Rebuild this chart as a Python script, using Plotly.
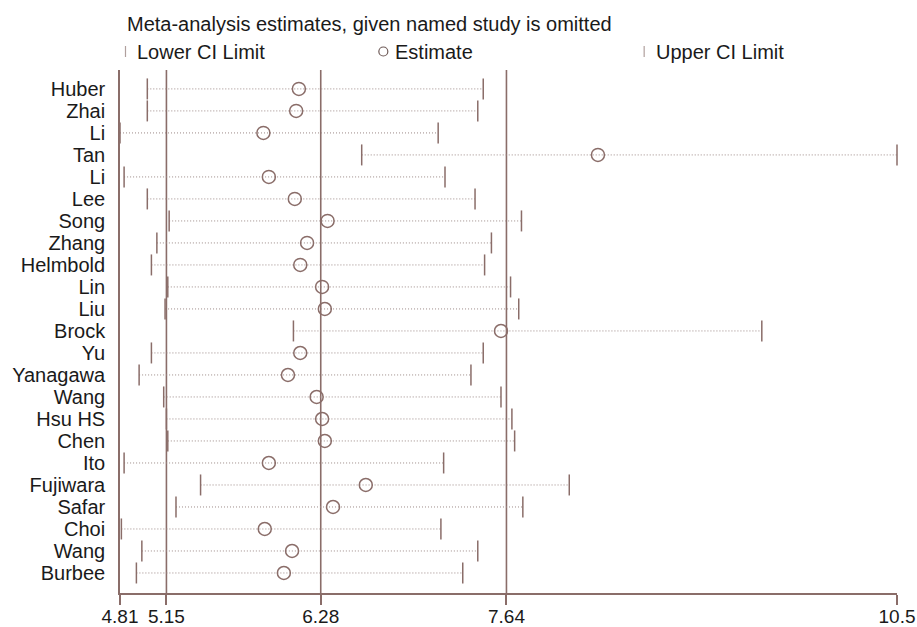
import plotly.graph_objects as go

studies = ["Huber", "Zhai", "Li", "Tan", "Li", "Lee", "Song", "Zhang", "Helmbold",
           "Lin", "Liu", "Brock", "Yu", "Yanagawa", "Wang", "Hsu HS", "Chen", "Ito",
           "Fujiwara", "Safar", "Choi", "Wang", "Burbee"]
estimate = [6.12, 6.10, 5.86, 8.31, 5.90, 6.09, 6.33, 6.18, 6.13,
            6.29, 6.31, 7.60, 6.13, 6.04, 6.25, 6.29, 6.31, 5.90,
            6.61, 6.37, 5.87, 6.07, 6.01]
lower_ci = [5.01, 5.01, 4.81, 6.58, 4.84, 5.01, 5.17, 5.08, 5.04,
            5.16, 5.14, 6.08, 5.04, 4.95, 5.13, 5.15, 5.16, 4.84,
            5.40, 5.22, 4.82, 4.97, 4.93]
upper_ci = [7.47, 7.43, 7.14, 10.50, 7.19, 7.41, 7.75, 7.53, 7.48,
            7.67, 7.73, 9.51, 7.47, 7.38, 7.60, 7.68, 7.70, 7.18,
            8.10, 7.76, 7.16, 7.43, 7.32]
overall = [5.15, 6.28, 7.64]
x_ticks = [4.81, 5.15, 6.28, 7.64, 10.5]
x_ticktext = ["4.81", "5.15", "6.28", "7.64", "10.5"]

title_text = "Meta-analysis estimates, given named study is omitted"
legend_labels = ["Lower CI Limit", "Estimate", "Upper CI Limit"]

LINE = "#8a6d69"
DOT = "#9c8a87"
FONT = "Liberation Sans, Arial, sans-serif"
W, H = 917, 627
ML, MR, MT, MB = 119.5, 20, 70, 34
pw, ph = W - ML - MR, H - MT - MB

def px(x):
    return (x - ML) / pw

def py(y):
    return (H - MB - y) / ph

rows = list(range(len(studies)))

fig = go.Figure()

# dotted connecting lines
xs, ys = [], []
for i in rows:
    xs += [lower_ci[i], upper_ci[i], None]
    ys += [i, i, None]
fig.add_trace(go.Scatter(x=xs, y=ys, mode="lines",
                         line=dict(color=DOT, width=1, dash="1px,2px"),
                         showlegend=False, hoverinfo="skip", cliponaxis=False))

fig.add_trace(go.Scatter(x=lower_ci, y=rows, mode="markers", name=legend_labels[0],
                         marker=dict(symbol="line-ns", size=15,
                                     line=dict(color=LINE, width=1.5)),
                         showlegend=False, cliponaxis=False))
fig.add_trace(go.Scatter(x=upper_ci, y=rows, mode="markers", name=legend_labels[2],
                         marker=dict(symbol="line-ns", size=15,
                                     line=dict(color=LINE, width=1.5)),
                         showlegend=False, cliponaxis=False))
fig.add_trace(go.Scatter(x=estimate, y=rows, mode="markers", name=legend_labels[1],
                         marker=dict(symbol="circle-open", size=13, color=LINE,
                                     line=dict(color=LINE, width=1.5)),
                         showlegend=False, cliponaxis=False))

# overall reference lines
for v in overall:
    fig.add_shape(type="line", xref="x", yref="paper", x0=v, x1=v, y0=0, y1=1,
                  line=dict(color=LINE, width=1.6), layer="below")

# title and manual legend
fig.add_annotation(xref="paper", yref="paper", x=px(125), y=py(24), text=title_text,
                   showarrow=False, xanchor="left", yanchor="middle",
                   font=dict(family=FONT, size=20, color="#1a1a1a"))
leg_x = [125, 383, 644]
for k, lab in enumerate(legend_labels):
    fig.add_annotation(xref="paper", yref="paper", x=px(leg_x[k] + 10), y=py(52),
                       text=lab, showarrow=False, xanchor="left", yanchor="middle",
                       font=dict(family=FONT, size=20, color="#1a1a1a"))
for k in (0, 2):
    fig.add_shape(type="line", xref="paper", yref="paper",
                  x0=px(leg_x[k]), x1=px(leg_x[k]), y0=py(46), y1=py(57),
                  line=dict(color="#b0a09d", width=1.2))
fig.add_shape(type="circle", xref="paper", yref="paper",
              x0=px(leg_x[1] - 4.5), x1=px(leg_x[1] + 4.5),
              y0=py(47), y1=py(56), line=dict(color="#6e5a57", width=1.2))

fig.update_xaxes(range=[4.81, 10.5], tickvals=x_ticks, ticktext=x_ticktext,
                 showgrid=False, zeroline=False, showline=True, linecolor=LINE,
                 linewidth=1.6, ticks="outside", ticklen=10, tickwidth=1.6,
                 tickcolor=LINE, automargin=False, ticklabelstandoff=-5,
                 tickfont=dict(family=FONT, size=19, color="#1a1a1a"))
fig.update_yaxes(range=[22.91, -0.86], tickvals=rows, ticktext=studies,
                 showgrid=False, zeroline=False, showline=True, linecolor=LINE,
                 linewidth=1.6, ticks="", ticklabelstandoff=9, automargin=False,
                 tickfont=dict(family=FONT, size=20, color="#1a1a1a"))

fig.update_layout(width=W, height=H, plot_bgcolor="white", paper_bgcolor="white",
                  margin=dict(l=ML, r=MR, t=MT, b=MB, pad=0), showlegend=False)

fig.write_html("out.html", config={"displayModeBar": False},
               post_script="document.body.style.margin='0';"
                           "document.body.style.overflow='hidden';")
